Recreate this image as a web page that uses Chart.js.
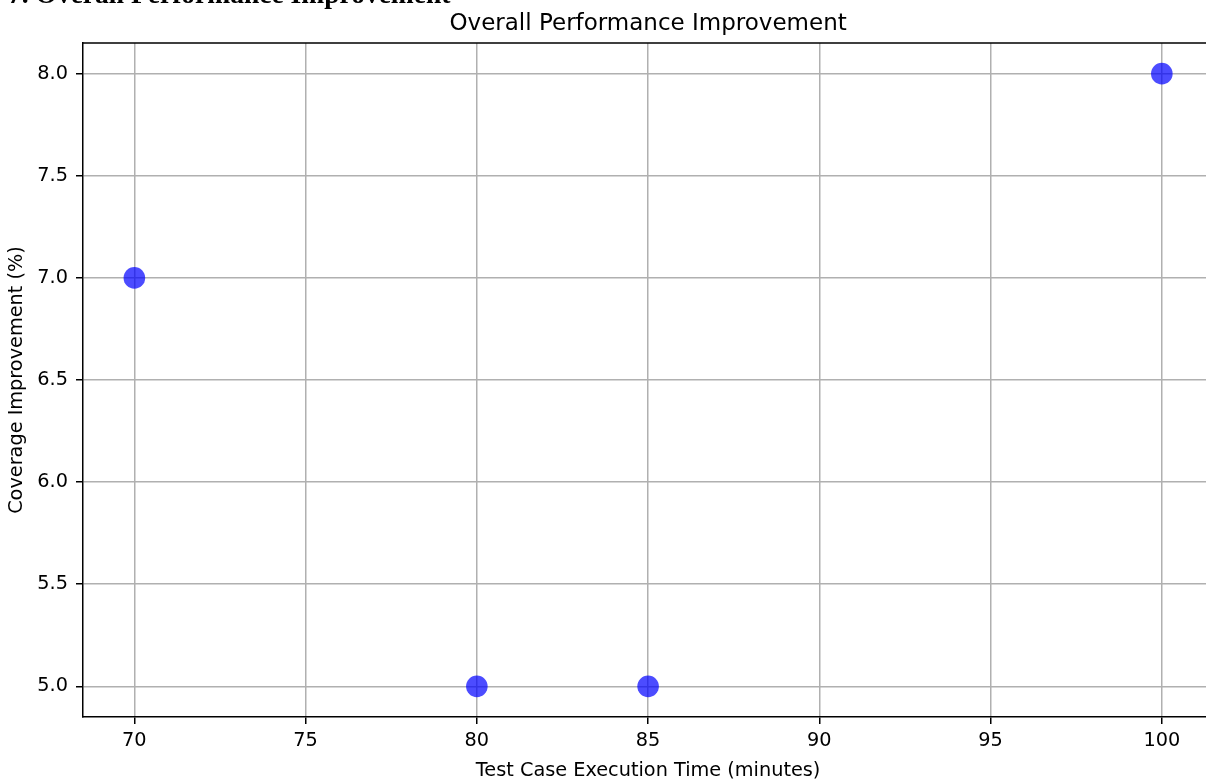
<!DOCTYPE html>
<html>
<head>
<meta charset="utf-8">
<script src="https://cdn.jsdelivr.net/npm/chart.js@4/dist/chart.umd.min.js"></script>
<style>
html,body{margin:0;padding:0;background:#fff;overflow:hidden;width:1206px;height:780px;}
#c{position:absolute;left:0;top:0;}
</style>
</head>
<body>
<canvas id="c" width="1224" height="780" style="width:1224px;height:780px;"></canvas>
<script>
const executionTimes = [70, 80, 85, 100];
const coverageImprovement = [7.0, 5.0, 5.0, 8.0];
const xTicks = [70, 75, 80, 85, 90, 95, 100];
const yTicks = [5.0, 5.5, 6.0, 6.5, 7.0, 7.5, 8.0];
const heading = '7. Overall Performance Improvement';
const chartTitle = 'Overall Performance Improvement';
const xLabel = 'Test Case Execution Time (minutes)';
const yLabel = 'Coverage Improvement (%)';

const FONT = 'DejaVu Sans';
const points = executionTimes.map((t, i) => ({x: t, y: coverageImprovement[i]}));

const textPlugin = {
  id: 'texts',
  afterDraw(chart) {
    const ctx = chart.ctx, a = chart.chartArea;
    ctx.save();
    ctx.strokeStyle = '#000';
    ctx.lineWidth = 1.5;
    ctx.beginPath();
    ctx.moveTo(a.left, a.top);
    ctx.lineTo(a.right, a.top);
    ctx.lineTo(a.right, a.bottom);
    ctx.stroke();
    ctx.fillStyle = '#000';
    ctx.font = 'bold 27.5px "Liberation Serif"';
    ctx.textAlign = 'left';
    ctx.textBaseline = 'alphabetic';
    ctx.fillText(heading, 8, 3);
    ctx.font = '23px "' + FONT + '"';
    ctx.textAlign = 'center';
    ctx.fillText(chartTitle, (a.left + a.right) / 2, 30);
    ctx.font = '19.3px "' + FONT + '"';
    ctx.fillText(xLabel, (a.left + a.right) / 2, 776);
    ctx.translate(22, (a.top + a.bottom) / 2);
    ctx.rotate(-Math.PI / 2);
    ctx.fillText(yLabel, 0, 0);
    ctx.restore();
  }
};

new Chart(document.getElementById('c'), {
  type: 'scatter',
  data: {
    datasets: [{
      data: points,
      backgroundColor: 'rgba(0,0,255,0.7)',
      borderColor: 'rgba(0,0,255,0.7)',
      borderWidth: 0,
      pointRadius: 10.8,
      pointHoverRadius: 10.8
    }]
  },
  options: {
    responsive: false,
    animation: false,
    events: [],
    devicePixelRatio: 1,
    layout: {padding: {left: 0, top: 43, right: 4, bottom: 0}},
    plugins: {legend: {display: false}, title: {display: false}, tooltip: {enabled: false}},
    scales: {
      x: {
        type: 'linear',
        min: 68.5,
        max: 101.5,
        z: 1,
        afterFit: s => { s.height = 63; },
        afterBuildTicks: s => { s.ticks = xTicks.map(v => ({value: v})); },
        grid: {color: '#b0b0b0', lineWidth: 1.5, tickLength: 7, tickColor: '#000', tickWidth: 1.5},
        border: {color: '#000', width: 1.5},
        ticks: {color: '#000', font: {family: FONT, size: 19.3}, padding: 5, maxRotation: 0, autoSkip: false,
          callback: v => String(v)}
      },
      y: {
        type: 'linear',
        min: 4.85,
        max: 8.15,
        z: 1,
        afterFit: s => { s.width = 83; },
        afterBuildTicks: s => { s.ticks = yTicks.map(v => ({value: v})); },
        grid: {color: '#b0b0b0', lineWidth: 1.5, tickLength: 7, tickColor: '#000', tickWidth: 1.5},
        border: {color: '#000', width: 1.5},
        ticks: {color: '#000', font: {family: FONT, size: 19.3}, padding: 8, autoSkip: false,
          callback: v => Number(v).toFixed(1)}
      }
    }
  },
  plugins: [textPlugin]
});
</script>
</body>
</html>
